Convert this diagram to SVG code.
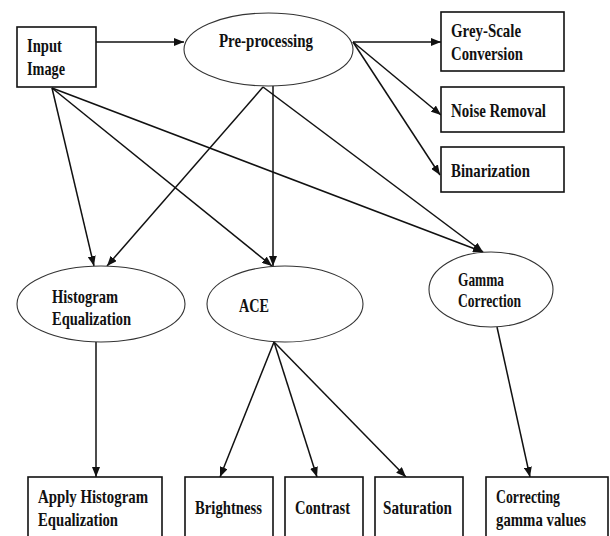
<svg xmlns="http://www.w3.org/2000/svg" width="610" height="536" viewBox="0 0 610 536">
<style>
.box{fill:#fff;stroke:#111;stroke-width:1.6}
.ell{fill:#fff;stroke:#333;stroke-width:1.1}
.t{font-family:"Liberation Serif","Times New Roman",serif;font-weight:bold;font-size:19px;fill:#111}
.c{fill:none;stroke:#111;stroke-width:1.5}
</style>
<defs>
<marker id="ah" markerUnits="userSpaceOnUse" markerWidth="10" markerHeight="8" refX="10" refY="4" orient="auto">
<path d="M0,0 L10,4 L0,8 Z" fill="#111"/>
</marker>
</defs>
<rect width="610" height="536" fill="#fff"/>
<g id="connectors">
<line class="c" x1="96" y1="42" x2="184" y2="42" marker-end="url(#ah)"/>
<line class="c" x1="353" y1="42" x2="441" y2="42" marker-end="url(#ah)"/>
<line class="c" x1="353" y1="42" x2="441" y2="115" marker-end="url(#ah)"/>
<line class="c" x1="353" y1="42" x2="440" y2="175" marker-end="url(#ah)"/>
<line class="c" x1="52" y1="88" x2="94" y2="266" marker-end="url(#ah)"/>
<line class="c" x1="52" y1="88" x2="272" y2="266" marker-end="url(#ah)"/>
<line class="c" x1="52" y1="88" x2="483" y2="252" marker-end="url(#ah)"/>
<line class="c" x1="263" y1="87" x2="107" y2="266" marker-end="url(#ah)"/>
<line class="c" x1="273" y1="86" x2="273" y2="266" marker-end="url(#ah)"/>
<line class="c" x1="263" y1="87" x2="483" y2="252" marker-end="url(#ah)"/>
<line class="c" x1="96" y1="342" x2="96" y2="477" marker-end="url(#ah)"/>
<line class="c" x1="274" y1="342" x2="220" y2="477" marker-end="url(#ah)"/>
<line class="c" x1="274" y1="342" x2="317" y2="477" marker-end="url(#ah)"/>
<line class="c" x1="274" y1="342" x2="406" y2="477" marker-end="url(#ah)"/>
<line class="c" x1="497" y1="327" x2="530" y2="477" marker-end="url(#ah)"/>
</g>
<g id="input-image">
<rect class="box" x="17" y="27" width="79" height="60"/>
<text class="t" x="27" y="52" textLength="35" lengthAdjust="spacingAndGlyphs">Input</text>
<text class="t" x="27" y="75" textLength="38" lengthAdjust="spacingAndGlyphs">Image</text>
</g>
<g id="pre-processing">
<ellipse class="ell" cx="268.5" cy="49.5" rx="84.5" ry="36.5"/>
<text class="t" x="219" y="47" textLength="94" lengthAdjust="spacingAndGlyphs">Pre-processing</text>
</g>
<g id="grey-scale">
<rect class="box" x="441" y="12" width="123" height="59"/>
<text class="t" x="451" y="37" textLength="70" lengthAdjust="spacingAndGlyphs">Grey-Scale</text>
<text class="t" x="451" y="60" textLength="72" lengthAdjust="spacingAndGlyphs">Conversion</text>
</g>
<g id="noise-removal">
<rect class="box" x="441" y="87" width="123" height="45"/>
<text class="t" x="451" y="117" textLength="95" lengthAdjust="spacingAndGlyphs">Noise Removal</text>
</g>
<g id="binarization">
<rect class="box" x="441" y="147" width="123" height="45"/>
<text class="t" x="451" y="177" textLength="79" lengthAdjust="spacingAndGlyphs">Binarization</text>
</g>
<g id="histogram-equalization">
<ellipse class="ell" cx="101" cy="304" rx="84" ry="38"/>
<text class="t" x="52" y="303" textLength="66" lengthAdjust="spacingAndGlyphs">Histogram</text>
<text class="t" x="52" y="325" textLength="79" lengthAdjust="spacingAndGlyphs">Equalization</text>
</g>
<g id="ace">
<ellipse class="ell" cx="285" cy="304" rx="78" ry="38"/>
<text class="t" x="239" y="312" textLength="30" lengthAdjust="spacingAndGlyphs">ACE</text>
</g>
<g id="gamma-correction">
<ellipse class="ell" cx="491" cy="289.5" rx="62" ry="37.5"/>
<text class="t" x="458" y="286" textLength="46" lengthAdjust="spacingAndGlyphs">Gamma</text>
<text class="t" x="458" y="307" textLength="63" lengthAdjust="spacingAndGlyphs">Correction</text>
</g>
<g id="apply-histogram">
<rect class="box" x="28" y="477" width="134" height="70"/>
<text class="t" x="38" y="503" textLength="110" lengthAdjust="spacingAndGlyphs">Apply Histogram</text>
<text class="t" x="38" y="526" textLength="80" lengthAdjust="spacingAndGlyphs">Equalization</text>
</g>
<g id="brightness">
<rect class="box" x="185" y="477" width="88" height="70"/>
<text class="t" x="195" y="514" textLength="67" lengthAdjust="spacingAndGlyphs">Brightness</text>
</g>
<g id="contrast">
<rect class="box" x="285" y="477" width="78" height="70"/>
<text class="t" x="295" y="514" textLength="55" lengthAdjust="spacingAndGlyphs">Contrast</text>
</g>
<g id="saturation">
<rect class="box" x="375" y="477" width="88" height="70"/>
<text class="t" x="383" y="514" textLength="69" lengthAdjust="spacingAndGlyphs">Saturation</text>
</g>
<g id="correcting-gamma">
<rect class="box" x="486" y="477" width="122" height="70"/>
<text class="t" x="496" y="503" textLength="64" lengthAdjust="spacingAndGlyphs">Correcting</text>
<text class="t" x="496" y="526" textLength="90" lengthAdjust="spacingAndGlyphs">gamma values</text>
</g>
</svg>
